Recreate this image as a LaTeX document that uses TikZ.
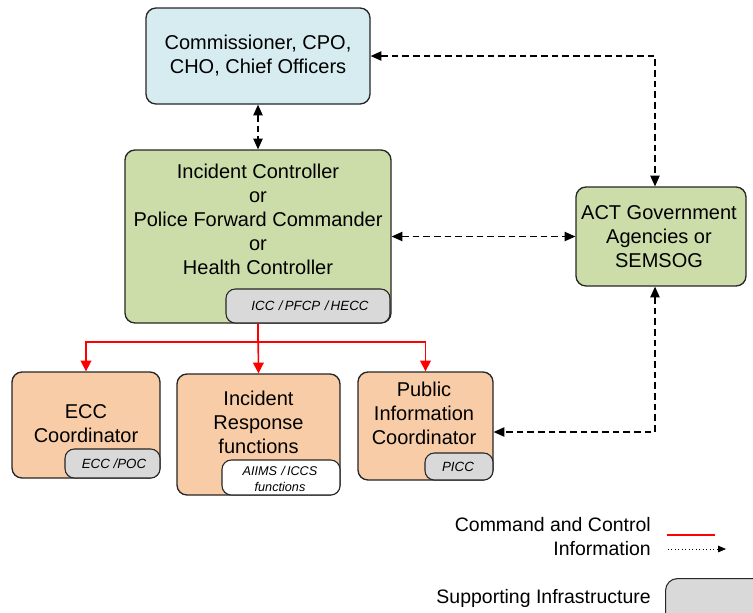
\documentclass[tikz,border=0pt]{standalone}
\usepackage{fontspec}
\setmainfont{Liberation Sans}
\usetikzlibrary{arrows.meta}
\definecolor{cblue}{RGB}{214,236,241}
\definecolor{cgreen}{RGB}{205,221,170}
\definecolor{cpeach}{RGB}{248,204,166}
\definecolor{cgray}{RGB}{217,217,217}
\tikzset{
  box/.style={draw=black!85, line width=1pt, rounded corners=7.5pt, inner sep=0pt},
  subbox/.style={draw=black!85, line width=0.8pt, rounded corners=7pt, inner sep=0pt, fill=cgray},
  maintext/.style={align=center, font=\fontsize{15}{18}\selectfont, inner sep=0pt},
  subtext/.style={align=center, font=\fontsize{10}{12}\selectfont\itshape, inner sep=0pt},
  legtext/.style={anchor=east, font=\fontsize{14.6}{17}\selectfont, inner sep=0pt},
  dashar/.style={black, line width=0.8pt, dash pattern=on 5pt off 3pt, {Triangle[length=8pt,width=7pt]}-{Triangle[length=8pt,width=7pt]}},
  redar/.style={red, line width=1.2pt, -{Triangle[length=8pt,width=8pt]}},
}
\begin{document}
\begin{tikzpicture}[x=0.75pt,y=-0.75pt]
\clip (0,0) rectangle (753,612);
\useasboundingbox (0,0) rectangle (753,612);
\fill[white] (0,0) rectangle (753,612);

% main boxes
\node[box, fill=cblue, minimum width=168pt, minimum height=72pt] (comm) at (258,56) {};
\node[maintext] (commtext) at (258,56) {Commissioner, CPO,\\CHO, Chief Officers};

\node[box, fill=cgreen, minimum width=199.5pt, minimum height=129.75pt] (ic) at (258,236.5) {};
\node[maintext] (ictext) at (258,219.5) {Incident Controller\\or\\Police Forward Commander\\or\\Health Controller};
\node[subbox, minimum width=123pt, minimum height=25.5pt] (icc) at (308,306) {};
\node[subtext] (icctext) at (310,306) {ICC\,\,/\,PFCP\,\,/\,HECC};

\node[box, fill=cgreen, minimum width=127.5pt, minimum height=74.25pt] (act) at (661,236.5) {};
\node[maintext] (acttext) at (659,237) {ACT Government\\Agencies or\\SEMSOG};

\node[box, fill=cpeach, minimum width=111pt, minimum height=79.5pt] (ecc) at (86,425) {};
\node[maintext] (ecctext) at (86,424) {ECC\\Coordinator};
\node[subbox, minimum width=71.25pt, minimum height=21.75pt] (eccsub) at (112.5,463.5) {};
\node[subtext] (eccsubtext) at (114,463.5) {ECC /POC};

\node[box, fill=cpeach, minimum width=122.25pt, minimum height=90.75pt] (ir) at (258.5,434.5) {};
\node[maintext] (irtext) at (258.5,422) {Incident\\Response\\functions};
\node[subbox, fill=white, minimum width=88.5pt, minimum height=26.25pt] (irsub) at (281,477.5) {};
\node[subtext, font=\fontsize{9.5}{12}\selectfont\itshape] (irsubtext) at (280,478.5) {AIIMS\,\,/\,ICCS\\functions};

\node[box, fill=cpeach, minimum width=101.25pt, minimum height=81pt] (pic) at (425.5,426) {};
\node[maintext] (pictext) at (424,413) {Public\\Information\\Coordinator};
\node[subbox, minimum width=51pt, minimum height=20.25pt] (picc) at (459,466.5) {};
\node[subtext] (picctext) at (458,466.5) {PICC};

% dashed information connectors
\draw[dashar] (comm.south) -- (ic.north);
\draw[dashar] (comm.east) -| ([xshift=-4.5pt]act.north);
\draw[dashar] (ic.east) -- (act.west);
\draw[dashar] ([xshift=-4.5pt]act.south) |- ([yshift=-4.5pt]pic.east);

% red command connectors
\coordinate (split) at (258,342);
\draw[redar] (ic.south) -- (ir.north);
\draw[redar] (ic.south) -- (split) -| (ecc.north);
\draw[redar] (split) -| (pic.north);

% legend
\node[legtext] (leg1) at (651,525) {Command and Control};
\node[legtext] (leg2) at (651,549) {Information};
\node[legtext] (leg3) at (651,598) {Supporting Infrastructure};
\coordinate (r1) at (667,535);
\coordinate (r2) at (715,535);
\draw[red, line width=1.2pt] (r1) -- (r2);
\coordinate (d1) at (668,549);
\coordinate (d2) at (726,549);
\draw[black, line width=0.6pt, dotted, -{Triangle[length=6pt,width=5pt]}] (d1) -- (d2);
\node[subbox, line width=0.8pt, rounded corners=9pt, minimum width=75pt, minimum height=36pt, anchor=north west] (legbox) at (665,578) {};
\end{tikzpicture}
\end{document}
